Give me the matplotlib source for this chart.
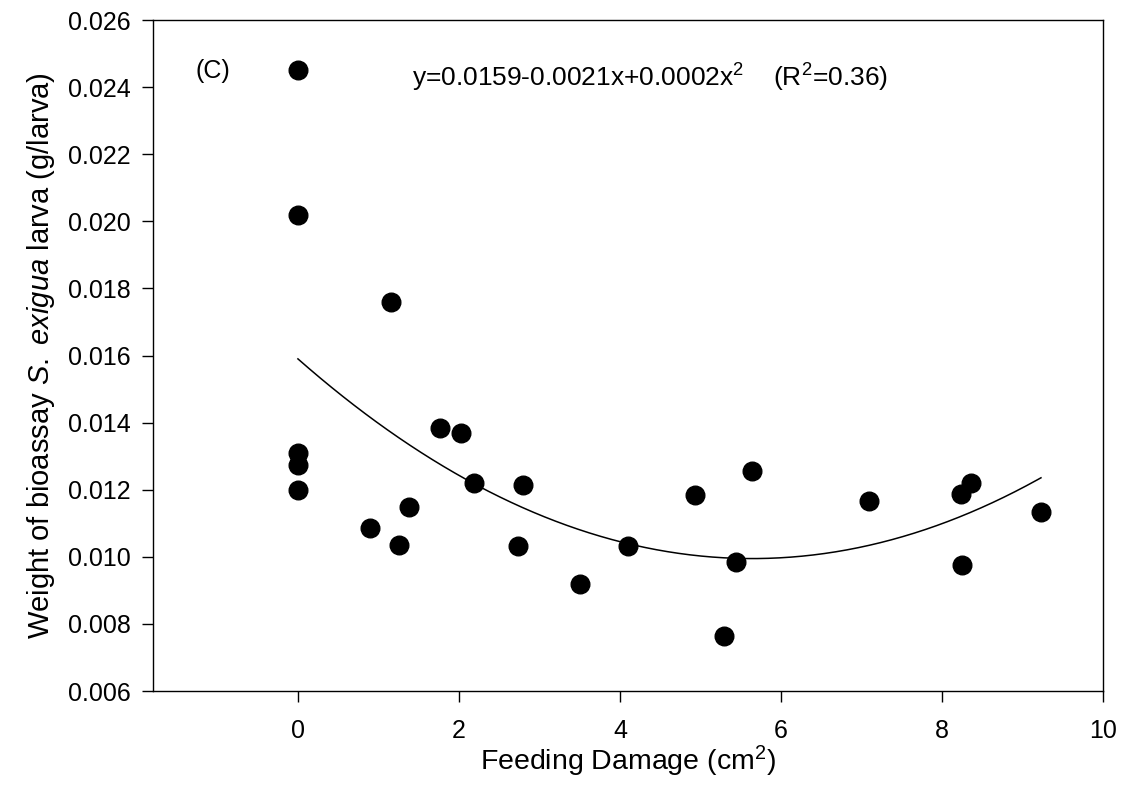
import matplotlib.pyplot as plt
import numpy as np

plt.rcParams['font.family'] = ['Liberation Sans', 'DejaVu Sans']
plt.rcParams['mathtext.fontset'] = 'custom'
plt.rcParams['mathtext.rm'] = 'Liberation Sans'
plt.rcParams['mathtext.it'] = 'Liberation Sans:italic'

# feeding damage (cm2) and larval weight (g/larva)
damage = [0, 0, 0, 0, 0, 1.15, 0.9, 1.26, 1.38, 1.77, 2.03, 2.19, 2.8, 2.73,
          3.5, 4.1, 4.93, 5.29, 5.44, 5.64, 7.09, 8.24, 8.36, 8.25, 9.23]
weight = [0.0245, 0.0202, 0.0131, 0.01275, 0.0120, 0.0176, 0.01085, 0.01035,
          0.0115, 0.01383, 0.0137, 0.0122, 0.01215, 0.01033, 0.0092, 0.01033,
          0.01185, 0.00765, 0.00985, 0.01255, 0.01165, 0.01188, 0.0122,
          0.00975, 0.01133]

# quadratic regression coefficients (a + b*x + c*x^2)
fit_coef = [0.0159, -0.00211, 0.000187]

yticks = [0.006, 0.008, 0.010, 0.012, 0.014, 0.016, 0.018, 0.020, 0.022, 0.024, 0.026]
xticks = [0, 2, 4, 6, 8, 10]

fig = plt.figure(figsize=(11.31, 7.85), dpi=100)
ax = fig.add_axes([0.1353, 0.1197, 0.8399, 0.8548])

ax.scatter(damage, weight, s=180, color='black', zorder=3)

xs = np.linspace(min(damage), max(damage), 200)
ys = fit_coef[0] + fit_coef[1] * xs + fit_coef[2] * xs ** 2
ax.plot(xs, ys, color='black', linewidth=1.1)

ax.set_xlim(-1.8, 10)
ax.set_ylim(0.006, 0.026)
ax.set_xticks(xticks)
ax.set_yticks(yticks)
ax.set_yticklabels([f'{v:.3f}' for v in yticks])

ax.tick_params(direction='out', length=8, width=1, labelsize=18,
               top=False, right=False)
ax.tick_params(axis='y', pad=8)
ax.tick_params(axis='x', pad=12)
for s in ax.spines.values():
    s.set_linewidth(1.0)

ax.set_xlabel('Feeding Damage (cm$^{2}$)', fontsize=20.5, labelpad=1)
ax.set_ylabel('Weight of bioassay $\\it{S.\\ exigua}$ larva (g/larva)',
              fontsize=21, labelpad=8)

ax.text(0.045, 0.924, '(C)', transform=ax.transAxes, fontsize=18,
        ha='left', va='center')
ax.text(0.2726, 0.9135, 'y=0.0159-0.0021x+0.0002x$^2$    (R$^2$=0.36)',
        transform=ax.transAxes, fontsize=19, ha='left', va='center')

fig.savefig('out.png', dpi=100)
